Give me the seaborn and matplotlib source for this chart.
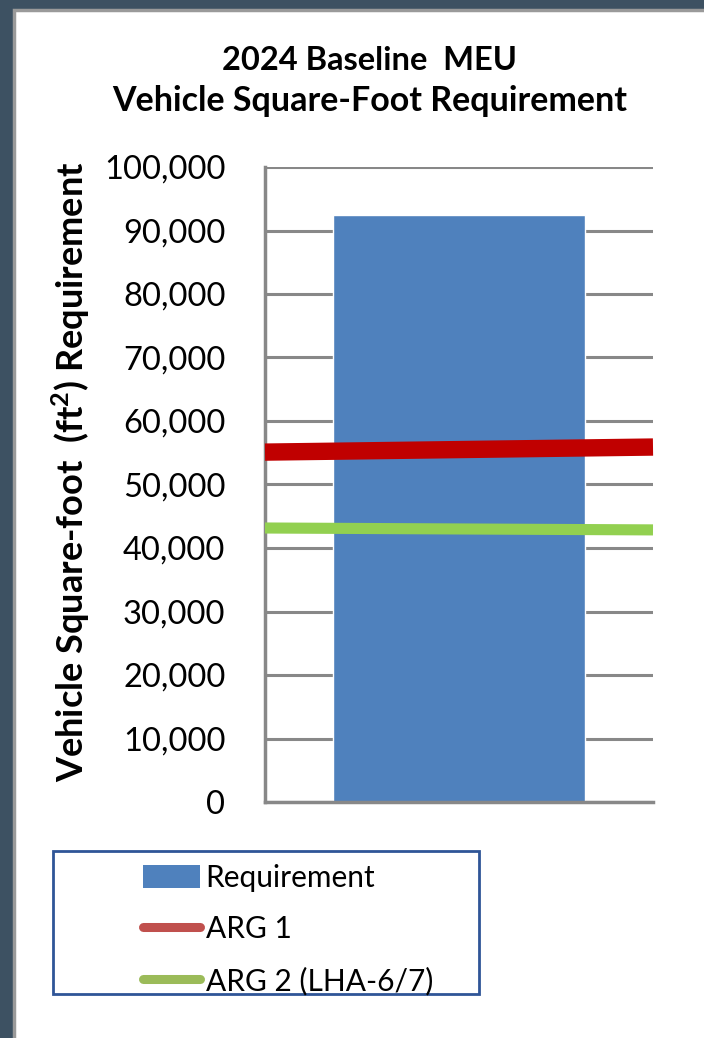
import matplotlib
matplotlib.use("Agg")
import matplotlib.pyplot as plt
import seaborn as sns
import pandas as pd
from matplotlib.patches import Rectangle, Patch
from matplotlib.lines import Line2D
from matplotlib.ticker import FuncFormatter, MultipleLocator

# ---- data ----
categories = ["2024 Baseline MEU"]
requirement = [92500]
arg1_values = [55100, 55900]     # left / right end of ARG 1 line
arg2_values = [43150, 42850]     # left / right end of ARG 2 line
line_x = [-0.5, 0.5]
legend_labels = ["Requirement", "ARG 1", "ARG 2 (LHA-6/7)"]

sns.set_theme(style="white")
plt.rcParams["font.family"] = ["Lato", "DejaVu Sans"]
plt.rcParams["mathtext.fontset"] = "custom"
plt.rcParams["mathtext.rm"] = "Lato:bold"
plt.rcParams["mathtext.bf"] = "Lato:bold"
plt.rcParams["text.color"] = "black"

W, H = 704, 1038
fig = plt.figure(figsize=(W / 100, H / 100), dpi=100)
fig.patch.set_facecolor("#3d5162")

# white panel with gray edge (right edge runs off the figure)
fig.patches.append(Rectangle((14 / W, -0.01), 1.05 - 14 / W, 1.01 - 10 / H, transform=fig.transFigure,
                             facecolor="white", edgecolor="#9a9a9a", linewidth=2.5, zorder=-5))

ax = fig.add_axes([265 / W, 1 - 802 / H, 388 / W, 635 / H])
ax.set_zorder(2)
ax.set_facecolor("white")

df = pd.DataFrame({"cat": categories, "val": requirement})
sns.barplot(data=df, x="cat", y="val", color="#4f81bd", saturation=1, width=0.652, ax=ax, zorder=2)

lines_df = pd.DataFrame({"x": line_x * 2,
                         "y": arg1_values + arg2_values,
                         "s": ["ARG 1"] * 2 + ["ARG 2"] * 2})
sns.lineplot(data=lines_df[lines_df.s == "ARG 1"], x="x", y="y", color="#c00000",
             linewidth=12.5, ax=ax, legend=False, zorder=3, solid_capstyle="butt")
sns.lineplot(data=lines_df[lines_df.s == "ARG 2"], x="x", y="y", color="#92d050",
             linewidth=8, ax=ax, legend=False, zorder=3, solid_capstyle="butt")
for ln in ax.lines:
    ln.set_clip_on(False)

ax.set_xlim(-0.5, 0.5)
ax.set_ylim(0, 100000)
ax.yaxis.set_major_locator(MultipleLocator(10000))
ax.yaxis.set_major_formatter(FuncFormatter(lambda v, p: f"{int(v):,}"))
ax.grid(axis="y", color="#888888", linewidth=2.2, zorder=1)
ax.set_axisbelow(True)
for s in ["top", "right"]:
    ax.spines[s].set_visible(False)
for s in ["left", "bottom"]:
    ax.spines[s].set_color("#888888")
    ax.spines[s].set_linewidth(2.5)
ax.set_xticks([])
ax.set_xlabel("")
ax.tick_params(axis="y", labelsize=23.5, colors="black", length=0, pad=28.5)
ax.set_ylabel("Vehicle Square-foot  (ft$^2$) Requirement", fontsize=26, fontweight="bold",
              labelpad=0, color="black")
ax.yaxis.set_label_coords(92 / W, 1 - 472 / H, transform=fig.transFigure)

fig.text(370 / W, 1 - 60 / H, "2024 Baseline  MEU", ha="center", va="center",
         fontsize=23.5, fontweight="bold", color="black")
fig.text(370 / W, 1 - 101 / H, "Vehicle Square-Foot Requirement", ha="center", va="center",
         fontsize=24.5, fontweight="bold", color="black")

# legend frame
fig.patches.append(Rectangle((53 / W, 1 - 994 / H), 426 / W, 143 / H, transform=fig.transFigure,
                             facecolor="white", edgecolor="#2f5597", linewidth=2, zorder=1))
handles = [Patch(facecolor="#4f81bd", edgecolor="none"),
           Line2D([0], [0], color="#c0504d", linewidth=6.5, solid_capstyle="round"),
           Line2D([0], [0], color="#9bbb59", linewidth=6.5, solid_capstyle="round")]
leg = fig.legend(handles, legend_labels, loc="upper left",
                 bbox_to_anchor=(143 / W, 1 - 864 / H), frameon=False,
                 prop={"size": 21.5}, labelcolor="black", borderpad=0,
                 handlelength=1.9, handleheight=0.8, handletextpad=0.2,
                 labelspacing=0.78, borderaxespad=0)

fig.savefig("out.png", dpi=100, facecolor=fig.get_facecolor())
